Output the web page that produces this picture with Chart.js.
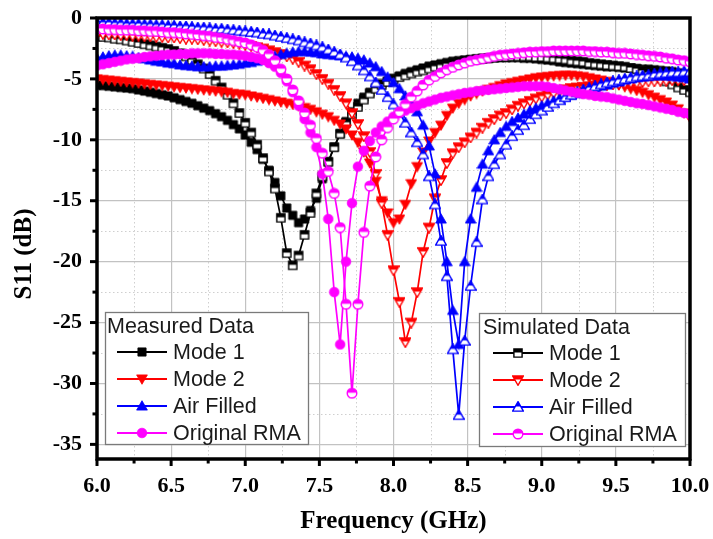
<!DOCTYPE html>
<html><head><meta charset="utf-8">
<script src="https://cdn.jsdelivr.net/npm/chart.js@4.4.0/dist/chart.umd.min.js"></script>
<style>html,body{margin:0;padding:0;background:#fff;}#wrap{position:relative;width:713px;height:539px;}</style>
</head><body><div id="wrap"><canvas id="c" width="713" height="539"></canvas></div>
<script>
const freq = [
6.00,6.04,6.08,6.12,6.16,6.20,6.24,6.28,6.32,6.36,
6.40,6.44,6.48,6.52,6.56,6.60,6.64,6.68,6.72,6.76,
6.80,6.84,6.88,6.92,6.96,7.00,7.04,7.08,7.12,7.16,
7.20,7.24,7.28,7.32,7.36,7.40,7.44,7.48,7.52,7.56,
7.60,7.64,7.68,7.72,7.76,7.80,7.84,7.88,7.92,7.96,
8.00,8.04,8.08,8.12,8.16,8.20,8.24,8.28,8.32,8.36,
8.40,8.44,8.48,8.52,8.56,8.60,8.64,8.68,8.72,8.76,
8.80,8.84,8.88,8.92,8.96,9.00,9.04,9.08,9.12,9.16,
9.20,9.24,9.28,9.32,9.36,9.40,9.44,9.48,9.52,9.56,
9.60,9.64,9.68,9.72,9.76,9.80,9.84,9.88,9.92,9.96,
10.00];

const measMode1 = [
-5.5,-5.55,-5.6,-5.65,-5.7,-5.75,-5.8,-5.9,-6.0,-6.1,
-6.2,-6.3,-6.4,-6.55,-6.7,-6.85,-7.0,-7.2,-7.4,-7.6,
-7.85,-8.1,-8.4,-8.75,-9.1,-9.6,-10.2,-10.8,-11.6,-12.5,
-13.5,-14.6,-15.6,-16.2,-16.8,-16.5,-15.8,-14.8,-13.2,-11.8,
-10.6,-9.5,-8.5,-7.7,-7.0,-6.5,-6.1,-5.7,-5.4,-5.15,
-4.95,-4.75,-4.55,-4.4,-4.25,-4.1,-3.95,-3.85,-3.75,-3.65,
-3.55,-3.5,-3.45,-3.4,-3.35,-3.3,-3.3,-3.25,-3.25,-3.25,
-3.25,-3.25,-3.3,-3.3,-3.35,-3.4,-3.45,-3.5,-3.6,-3.65,
-3.7,-3.75,-3.8,-3.85,-3.9,-3.95,-4.0,-4.0,-4.05,-4.1,
-4.1,-4.15,-4.2,-4.2,-4.25,-4.3,-4.35,-4.4,-4.5,-4.6,
-4.7];

const measMode2 = [
-5.0,-5.05,-5.1,-5.15,-5.2,-5.25,-5.3,-5.35,-5.4,-5.45,
-5.5,-5.55,-5.6,-5.65,-5.7,-5.75,-5.8,-5.85,-5.9,-5.95,
-6.0,-6.05,-6.1,-6.2,-6.25,-6.3,-6.4,-6.5,-6.6,-6.7,
-6.8,-6.9,-7.0,-7.1,-7.2,-7.35,-7.5,-7.7,-7.9,-8.1,
-8.4,-8.7,-9.1,-9.6,-10.2,-11.0,-11.9,-13.4,-15.0,-16.0,
-16.8,-16.5,-15.3,-13.6,-12.2,-11.0,-10.1,-9.4,-8.8,-8.0,
-7.4,-7.0,-6.7,-6.4,-6.2,-6.0,-5.85,-5.7,-5.55,-5.4,
-5.3,-5.2,-5.1,-5.0,-4.9,-4.85,-4.8,-4.75,-4.72,-4.7,
-4.7,-4.75,-4.8,-4.9,-5.0,-5.1,-5.2,-5.35,-5.5,-5.65,
-5.8,-5.95,-6.1,-6.3,-6.5,-6.7,-6.9,-7.15,-7.45,-7.8,
-8.2];

const measAir = [
-3.3,-3.2,-3.1,-3.05,-3.05,-3.1,-3.15,-3.25,-3.35,-3.45,
-3.55,-3.6,-3.7,-3.75,-3.85,-3.9,-3.95,-4.0,-4.0,-4.0,
-3.95,-3.95,-3.9,-3.85,-3.8,-3.7,-3.65,-3.55,-3.45,-3.3,
-3.15,-3.0,-2.9,-2.8,-2.75,-2.75,-2.8,-2.85,-2.95,-3.0,
-3.05,-3.1,-3.15,-3.2,-3.3,-3.45,-3.7,-4.0,-4.4,-4.85,
-5.3,-5.8,-6.4,-7.0,-7.7,-8.8,-10.5,-12.8,-16.5,-20.0,
-24.0,-26.8,-20.0,-16.5,-13.9,-12.0,-10.9,-10.0,-9.4,-8.9,
-8.5,-8.2,-7.9,-7.6,-7.4,-7.2,-7.0,-6.8,-6.65,-6.5,
-6.35,-6.2,-6.05,-5.9,-5.75,-5.6,-5.5,-5.35,-5.25,-5.1,
-5.0,-4.9,-4.85,-4.8,-4.75,-4.75,-4.75,-4.8,-4.85,-4.9,
-5.0];

const measRMA = [
-3.9,-3.8,-3.7,-3.6,-3.5,-3.4,-3.35,-3.3,-3.2,-3.15,
-3.1,-3.05,-3.0,-3.0,-2.95,-2.95,-2.9,-2.9,-2.9,-2.9,
-2.95,-2.95,-3.0,-3.0,-3.05,-3.1,-3.2,-3.3,-3.45,-3.7,
-4.0,-4.5,-5.2,-6.1,-7.2,-8.3,-9.4,-10.6,-12.8,-16.5,
-22.5,-26.8,-20.0,-15.2,-12.2,-10.9,-10.1,-9.4,-8.9,-8.5,
-8.1,-7.8,-7.6,-7.4,-7.2,-7.0,-6.85,-6.7,-6.55,-6.45,
-6.35,-6.25,-6.15,-6.1,-6.0,-5.95,-5.9,-5.85,-5.8,-5.75,
-5.7,-5.65,-5.6,-5.6,-5.6,-5.6,-5.65,-5.75,-5.85,-5.95,
-6.05,-6.15,-6.25,-6.3,-6.4,-6.45,-6.5,-6.6,-6.7,-6.8,
-6.9,-7.0,-7.05,-7.15,-7.25,-7.35,-7.45,-7.55,-7.7,-7.8,
-7.9];

const simMode1 = [
-1.5,-1.55,-1.6,-1.7,-1.75,-1.85,-1.95,-2.05,-2.15,-2.25,
-2.35,-2.45,-2.55,-2.7,-2.9,-3.15,-3.45,-3.8,-4.15,-4.6,
-5.15,-5.7,-6.3,-7.0,-7.8,-8.6,-9.4,-10.4,-11.5,-12.6,
-14.0,-16.4,-19.3,-20.3,-19.5,-17.8,-16.0,-14.4,-13.0,-11.8,
-10.6,-9.5,-8.6,-7.9,-7.3,-6.7,-6.2,-5.8,-5.5,-5.25,
-5.05,-4.85,-4.7,-4.55,-4.4,-4.3,-4.15,-4.0,-3.9,-3.8,
-3.7,-3.6,-3.5,-3.45,-3.4,-3.35,-3.3,-3.25,-3.2,-3.2,
-3.15,-3.15,-3.15,-3.15,-3.2,-3.2,-3.25,-3.3,-3.35,-3.4,
-3.5,-3.55,-3.6,-3.7,-3.75,-3.8,-3.85,-3.9,-3.95,-4.0,
-4.1,-4.2,-4.35,-4.5,-4.7,-4.95,-5.2,-5.45,-5.7,-5.9,
-6.1];

const simMode2 = [
-1.3,-1.3,-1.35,-1.35,-1.4,-1.4,-1.45,-1.45,-1.5,-1.5,
-1.55,-1.55,-1.6,-1.6,-1.65,-1.7,-1.7,-1.75,-1.8,-1.85,
-1.9,-1.95,-2.0,-2.05,-2.1,-2.2,-2.3,-2.4,-2.5,-2.65,
-2.8,-2.95,-3.15,-3.35,-3.6,-3.9,-4.2,-4.6,-5.0,-5.4,
-5.9,-6.4,-7.0,-7.8,-8.7,-9.7,-11.0,-12.8,-15.2,-17.8,
-20.7,-23.3,-26.6,-25.0,-22.5,-19.2,-17.2,-14.8,-13.3,-11.9,
-11.1,-10.6,-10.2,-9.8,-9.4,-9.0,-8.6,-8.3,-8.0,-7.8,
-7.5,-7.2,-7.0,-6.8,-6.6,-6.45,-6.3,-6.15,-6.0,-5.85,
-5.75,-5.7,-5.65,-5.6,-5.55,-5.5,-5.5,-5.45,-5.4,-5.35,
-5.3,-5.3,-5.25,-5.2,-5.2,-5.15,-5.15,-5.1,-5.1,-5.1,
-5.1];

const simAir = [
-0.4,-0.4,-0.4,-0.45,-0.45,-0.5,-0.5,-0.5,-0.55,-0.55,
-0.6,-0.6,-0.65,-0.65,-0.7,-0.7,-0.75,-0.8,-0.8,-0.85,
-0.9,-0.9,-0.95,-1.0,-1.05,-1.1,-1.15,-1.2,-1.3,-1.35,
-1.45,-1.55,-1.65,-1.75,-1.85,-2.0,-2.1,-2.25,-2.4,-2.6,
-2.8,-3.0,-3.25,-3.55,-3.9,-4.3,-4.8,-5.3,-5.9,-6.5,
-7.1,-7.8,-8.6,-9.4,-10.2,-11.2,-13.0,-15.3,-18.3,-21.2,
-27.2,-32.6,-26.5,-22.0,-18.4,-14.9,-13.0,-12.0,-11.2,-10.4,
-9.7,-9.2,-8.8,-8.3,-7.9,-7.6,-7.3,-7.0,-6.75,-6.5,
-6.3,-6.1,-5.9,-5.75,-5.6,-5.45,-5.3,-5.2,-5.1,-5.0,
-4.9,-4.8,-4.75,-4.7,-4.6,-4.55,-4.5,-4.45,-4.45,-4.4,
-4.4];

const simRMA = [
-0.9,-0.9,-0.95,-0.95,-1.0,-1.0,-1.0,-1.05,-1.05,-1.1,
-1.1,-1.15,-1.2,-1.2,-1.25,-1.3,-1.35,-1.4,-1.45,-1.5,
-1.6,-1.65,-1.75,-1.85,-1.95,-2.05,-2.2,-2.4,-2.65,-3.0,
-3.5,-4.2,-5.0,-5.9,-6.8,-7.8,-8.8,-9.9,-11.1,-12.6,
-14.4,-17.2,-23.5,-30.8,-23.5,-17.6,-13.8,-11.4,-10.0,-9.0,
-8.3,-7.7,-7.1,-6.5,-6.0,-5.5,-5.1,-4.8,-4.5,-4.25,
-4.05,-3.85,-3.7,-3.55,-3.45,-3.35,-3.25,-3.15,-3.05,-3.0,
-2.95,-2.9,-2.85,-2.8,-2.8,-2.75,-2.75,-2.7,-2.7,-2.7,
-2.7,-2.7,-2.7,-2.75,-2.75,-2.8,-2.8,-2.85,-2.9,-2.9,
-2.95,-3.0,-3.05,-3.1,-3.15,-3.2,-3.3,-3.35,-3.45,-3.5,
-3.6];

const seriesNames = ['Mode 1','Mode 2','Air Filled','Original RMA'];
const xTickLabels = ['6.0','6.5','7.0','7.5','8.0','8.5','9.0','9.5','10.0'];
const yTickLabels = ['0','-5','-10','-15','-20','-25','-30','-35'];

const COLORS = ['#000000','#ff0000','#0000ff','#ff00ff'];
const SHAPES = ['square','down','up','circle'];

function markerCanvas(shape, color, hollow){
  const S = 12, m = S/2;
  const c = document.createElement('canvas'); c.width = S; c.height = S;
  const g = c.getContext('2d');
  function path(){
    g.beginPath();
    if (shape === 'square') g.rect(m-4.1, m-4.1, 8.2, 8.2);
    else if (shape === 'circle') g.arc(m, m, 4.8, 0, Math.PI*2);
    else if (shape === 'up') { g.moveTo(m, m-5.3); g.lineTo(m+5.4, m+4.1); g.lineTo(m-5.4, m+4.1); g.closePath(); }
    else { g.moveTo(m-5.4, m-4.1); g.lineTo(m+5.4, m-4.1); g.lineTo(m, m+5.3); g.closePath(); }
  }
  if (!hollow) { path(); g.fillStyle = color; g.fill(); g.lineWidth = 0.8; g.strokeStyle = color; g.stroke(); }
  else {
    path(); g.fillStyle = '#fff'; g.fill();
    g.save(); path(); g.clip(); g.fillStyle = color; g.fillRect(0, 0, S, m - 0.5); g.restore();
    path(); g.lineWidth = 1.4; g.strokeStyle = color; g.stroke();
  }
  return c;
}

const measured = [measMode1, measMode2, measAir, measRMA];
const simulated = [simMode1, simMode2, simAir, simRMA];
const orderOf = [7, 5, 3, 1];
const datasets = [];
for (let k = 0; k < 4; k++) {
  datasets.push({
    label: 'Measured ' + seriesNames[k],
    data: freq.map((f, i) => ({x: f, y: measured[k][i]})),
    borderColor: COLORS[k], borderWidth: 1.7,
    pointStyle: markerCanvas(SHAPES[k], COLORS[k], false), pointRadius: 4,
    fill: false, tension: 0, order: orderOf[k] + 1
  });
  datasets.push({
    label: 'Simulated ' + seriesNames[k],
    data: freq.map((f, i) => ({x: f, y: simulated[k][i]})),
    borderColor: COLORS[k], borderWidth: 1.7,
    pointStyle: markerCanvas(SHAPES[k], COLORS[k], true), pointRadius: 4,
    fill: false, tension: 0, order: orderOf[k]
  });
}

const tickFont = {family: "'Liberation Serif','Times New Roman',serif", size: 22, weight: 'bold'};

const decor = {
  id: 'decor',
  beforeDatasetsDraw(chart) {
    const {ctx, chartArea: a, scales: {x, y}} = chart;
    ctx.save();
    ctx.strokeStyle = '#cfcfcf'; ctx.lineWidth = 1; ctx.setLineDash([1.5, 2.5]);
    for (let v = 6.25; v < 10; v += 0.5) {
      const px = Math.round(x.getPixelForValue(v)) + 0.5;
      ctx.beginPath(); ctx.moveTo(px, a.top); ctx.lineTo(px, a.bottom); ctx.stroke();
    }
    for (let v = -2.5; v > -36; v -= 5) {
      const py = Math.round(y.getPixelForValue(v)) + 0.5;
      ctx.beginPath(); ctx.moveTo(a.left, py); ctx.lineTo(a.right, py); ctx.stroke();
    }
    ctx.restore();
  },
  afterDatasetsDraw(chart) {
    const {ctx, chartArea: a, scales: {x, y}} = chart;
    ctx.save();
    ctx.strokeStyle = '#000'; ctx.lineWidth = 3.5;
    ctx.strokeRect(a.left, a.top, a.right - a.left, a.bottom - a.top);
    ctx.lineWidth = 3;
    for (let v = 6; v <= 10.001; v += 0.25) {
      const px = x.getPixelForValue(v);
      const major = Math.abs(v * 2 - Math.round(v * 2)) < 1e-6;
      ctx.beginPath(); ctx.moveTo(px, a.bottom); ctx.lineTo(px, a.bottom + (major ? 7 : 4.5)); ctx.stroke();
    }
    for (let v = 0; v >= -35.001; v -= 2.5) {
      const py = y.getPixelForValue(v);
      const major = Math.abs(v / 5 - Math.round(v / 5)) < 1e-6;
      ctx.beginPath(); ctx.moveTo(a.left, py); ctx.lineTo(a.left - (major ? 7 : 4.5), py); ctx.stroke();
    }
    ctx.fillStyle = '#000';
    ctx.font = "bold 25px 'Liberation Serif','Times New Roman',serif";
    ctx.textAlign = 'center'; ctx.textBaseline = 'middle';
    ctx.fillText('Frequency (GHz)', (a.left + a.right) / 2, 522);
    ctx.save(); ctx.translate(25, 254); ctx.rotate(-Math.PI / 2);
    ctx.fillText('S11 (dB)', 0, 0); ctx.restore();
    ctx.restore();
  },
  afterDraw(chart) {
    const ctx = chart.ctx;
    const ds = chart.data.datasets;
    function legend(box, title, titleX, titleY, lineX1, lineX2, textX, ys, idxs) {
      ctx.save();
      ctx.fillStyle = '#fff'; ctx.fillRect(box[0], box[1], box[2] - box[0], box[3] - box[1]);
      ctx.strokeStyle = '#7a7a7a'; ctx.lineWidth = 1.3;
      ctx.strokeRect(box[0] + 0.5, box[1] + 0.5, box[2] - box[0], box[3] - box[1]);
      ctx.font = "21.5px 'Liberation Sans',Arial,sans-serif";
      ctx.fillStyle = '#1a1a1a'; ctx.textAlign = 'left'; ctx.textBaseline = 'middle';
      ctx.fillText(title, titleX, titleY);
      for (let j = 0; j < 4; j++) {
        const d = ds[idxs[j]];
        const yy = ys[j];
        ctx.strokeStyle = d.borderColor; ctx.lineWidth = 1.8;
        ctx.beginPath(); ctx.moveTo(lineX1, yy); ctx.lineTo(lineX2, yy); ctx.stroke();
        const mk = d.pointStyle;
        ctx.drawImage(mk, (lineX1 + lineX2) / 2 - mk.width / 2, yy - mk.height / 2);
        ctx.fillStyle = '#1a1a1a';
        ctx.fillText(seriesNames[j], textX, yy + 1);
      }
      ctx.restore();
    }
    legend([105, 312, 308, 444], 'Measured Data', 107, 327, 117, 167, 173, [352, 379, 406, 433], [0, 2, 4, 6]);
    legend([479, 313, 685, 446], 'Simulated Data', 483, 328, 493, 543, 549, [353, 380, 407, 434], [1, 3, 5, 7]);
  }
};

function zeroPad(s) { s.paddingTop = 0; s.paddingBottom = 0; s.paddingLeft = 0; s.paddingRight = 0; }

new Chart(document.getElementById('c'), {
  type: 'line',
  data: {datasets},
  options: {
    responsive: false, animation: false, devicePixelRatio: 1,
    layout: {autoPadding: false, padding: {top: 18, right: 23, left: 0, bottom: 0}},
    plugins: {legend: {display: false}, tooltip: {enabled: false}},
    scales: {
      x: {
        type: 'linear', min: 6, max: 10,
        afterFit(s) { s.height = 80; zeroPad(s); },
        ticks: {stepSize: 0.5, includeBounds: false, autoSkip: false, maxRotation: 0, padding: 14,
          color: '#000', font: tickFont,
          callback: (v) => { const i = Math.round((v - 6) / 0.5); return xTickLabels[i] !== undefined ? xTickLabels[i] : ''; }},
        grid: {color: '#c2c2c2', lineWidth: 1.2, drawTicks: false},
        border: {display: false}
      },
      y: {
        type: 'linear', min: -36.2, max: 0,
        afterFit(s) { s.width = 97; zeroPad(s); },
        ticks: {stepSize: 5, includeBounds: false, autoSkip: false, padding: 15,
          color: '#000', font: tickFont,
          callback: (v) => { const i = Math.round(-v / 5); return yTickLabels[i] !== undefined ? yTickLabels[i] : ''; }},
        grid: {color: '#c2c2c2', lineWidth: 1.2, drawTicks: false},
        border: {display: false}
      }
    }
  },
  plugins: [decor]
});
</script>
</body></html>
